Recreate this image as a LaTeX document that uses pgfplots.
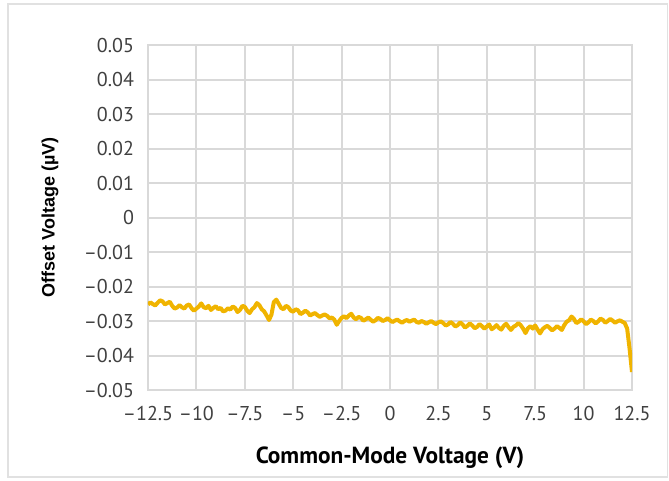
\documentclass[border=0pt]{standalone}
\usepackage{pgfplots}
\pgfplotsset{compat=1.18}
\usepackage{fontspec}
\setmainfont{PT Sans}
\newfontfamily\arialfont{Liberation Sans}
\definecolor{gridgray}{RGB}{217,217,217}
\definecolor{ticktext}{RGB}{64,64,64}
\definecolor{curve}{RGB}{240,180,0}
\begin{document}
\begin{tikzpicture}
\useasboundingbox (0pt,0pt) rectangle (501.75pt,360pt);
\draw[gridgray!80, line width=1.2pt] (6pt,2.25pt) rectangle (500.6pt,357pt);
\begin{axis}[
  at={(111pt,67.5pt)}, anchor=south west,
  scale only axis, width=363pt, height=258.75pt,
  xmin=-12.5, xmax=12.5, ymin=-0.05, ymax=0.05,
  xtick={-12.5,-10,...,12.5},
  ytick={-0.05,-0.04,...,0.05},
  scaled y ticks=false, scaled x ticks=false,
  xticklabels={–12.5,–10,–7.5,–5,–2.5,0,2.5,5,7.5,10,12.5},
  yticklabels={–0.05,–0.04,–0.03,–0.02,–0.01,0,0.01,0.02,0.03,0.04,0.05},
  major tick length=0pt,
  grid=major,
  major grid style={gridgray, line width=1.5pt},
  axis line style={gridgray, line width=1.5pt},
  tick label style={font=\fontsize{15}{15}\selectfont, text=ticktext},
  xticklabel style={yshift=-9pt},
  yticklabel style={xshift=-7pt},
  xlabel={Common-Mode Voltage (V)},
  ylabel={Offset Voltage (µV)},
  xlabel style={at={(axis description cs:0.5,-0.197)}, anchor=center, font=\fontsize{17.5}{17.5}\selectfont\bfseries},
  ylabel style={at={(axis description cs:-0.2025,0.5)}, anchor=center, font=\arialfont\fontsize{13.5}{13.5}\selectfont\bfseries},
]
\addplot[curve, line width=3pt, line join=round] coordinates {
(-12.5,-0.0252) (-12.375,-0.0246) (-12.25,-0.0251) (-12.125,-0.0255) (-12.0,-0.0247)
(-11.875,-0.0240) (-11.75,-0.0243) (-11.625,-0.0252) (-11.5,-0.0248) (-11.375,-0.0244)
(-11.25,-0.0256) (-11.125,-0.0264) (-11.0,-0.0261) (-10.875,-0.0254) (-10.75,-0.0260)
(-10.625,-0.0264) (-10.5,-0.0255) (-10.375,-0.0252) (-10.25,-0.0263) (-10.125,-0.0270)
(-10.0,-0.0264) (-9.875,-0.0258) (-9.75,-0.0249) (-9.625,-0.0260) (-9.5,-0.0263)
(-9.375,-0.0256) (-9.25,-0.0268) (-9.125,-0.0262) (-9.0,-0.0257) (-8.875,-0.0266)
(-8.75,-0.0262) (-8.625,-0.0272) (-8.5,-0.0270) (-8.375,-0.0263) (-8.25,-0.0267)
(-8.125,-0.0258) (-8.0,-0.0262) (-7.875,-0.0274) (-7.75,-0.0268) (-7.625,-0.0256)
(-7.5,-0.0259) (-7.375,-0.0270) (-7.25,-0.0277) (-7.125,-0.0266) (-7.0,-0.0260)
(-6.875,-0.0248) (-6.75,-0.0254) (-6.625,-0.0266) (-6.5,-0.0272) (-6.375,-0.0284)
(-6.25,-0.0297) (-6.125,-0.0282) (-6.0,-0.0245) (-5.875,-0.0238) (-5.75,-0.0250)
(-5.625,-0.0262) (-5.5,-0.0266) (-5.375,-0.0256) (-5.25,-0.0260) (-5.125,-0.0270)
(-5.0,-0.0273) (-4.875,-0.0266) (-4.75,-0.0269) (-4.625,-0.0280) (-4.5,-0.0276)
(-4.375,-0.0270) (-4.25,-0.0275) (-4.125,-0.0284) (-4.0,-0.0280) (-3.875,-0.0277)
(-3.75,-0.0283) (-3.625,-0.0288) (-3.5,-0.0284) (-3.375,-0.0281) (-3.25,-0.0285)
(-3.125,-0.0292) (-3.0,-0.0290) (-2.875,-0.0296) (-2.75,-0.0311) (-2.625,-0.0300)
(-2.5,-0.0291) (-2.375,-0.0286) (-2.25,-0.0292) (-2.125,-0.0284) (-2.0,-0.0279)
(-1.875,-0.0290) (-1.75,-0.0295) (-1.625,-0.0288) (-1.5,-0.0291) (-1.375,-0.0299)
(-1.25,-0.0295) (-1.125,-0.0290) (-1.0,-0.0296) (-0.875,-0.0302) (-0.75,-0.0298)
(-0.625,-0.0291) (-0.5,-0.0294) (-0.375,-0.0300) (-0.25,-0.0297) (-0.125,-0.0292)
(0,-0.0298) (0.125,-0.0303) (0.25,-0.0299) (0.375,-0.0296) (0.5,-0.0301)
(0.625,-0.0305) (0.75,-0.0300) (0.875,-0.0297) (1.0,-0.0302) (1.125,-0.0299)
(1.25,-0.0296) (1.375,-0.0303) (1.5,-0.0305) (1.625,-0.0300) (1.75,-0.0303)
(1.875,-0.0308) (2.0,-0.0304) (2.125,-0.0300) (2.25,-0.0305) (2.375,-0.0309)
(2.5,-0.0304) (2.625,-0.0301) (2.75,-0.0306) (2.875,-0.0313) (3.0,-0.0310)
(3.125,-0.0303) (3.25,-0.0308) (3.375,-0.0316) (3.5,-0.0312) (3.625,-0.0304)
(3.75,-0.0310) (3.875,-0.0319) (4.0,-0.0314) (4.125,-0.0307) (4.25,-0.0313)
(4.375,-0.0321) (4.5,-0.0317) (4.625,-0.0309) (4.75,-0.0315) (4.875,-0.0322)
(5.0,-0.0316) (5.125,-0.0310) (5.25,-0.0324) (5.375,-0.0319) (5.5,-0.0312)
(5.625,-0.0320) (5.75,-0.0325) (5.875,-0.0314) (6.0,-0.0308) (6.125,-0.0318)
(6.25,-0.0326) (6.375,-0.0317) (6.5,-0.0313) (6.625,-0.0306) (6.75,-0.0312)
(6.875,-0.0322) (7.0,-0.0335) (7.125,-0.0321) (7.25,-0.0315) (7.375,-0.0322)
(7.5,-0.0313) (7.625,-0.0325) (7.75,-0.0336) (7.875,-0.0324) (8.0,-0.0318)
(8.125,-0.0314) (8.25,-0.0320) (8.375,-0.0327) (8.5,-0.0322) (8.625,-0.0315)
(8.75,-0.0320) (8.875,-0.0326) (9.0,-0.0312) (9.125,-0.0302) (9.25,-0.0298)
(9.375,-0.0287) (9.5,-0.0294) (9.625,-0.0306) (9.75,-0.0302) (9.875,-0.0295)
(10.0,-0.0301) (10.125,-0.0309) (10.25,-0.0304) (10.375,-0.0296) (10.5,-0.0300)
(10.625,-0.0307) (10.75,-0.0301) (10.875,-0.0293) (11.0,-0.0297) (11.125,-0.0305)
(11.25,-0.0300) (11.375,-0.0294) (11.5,-0.0299) (11.625,-0.0305) (11.75,-0.0301)
(11.875,-0.0298) (12.0,-0.0302) (12.125,-0.0306) (12.25,-0.0322) (12.375,-0.0380)
(12.5,-0.0448)
};
\end{axis}
\end{tikzpicture}
\end{document}
